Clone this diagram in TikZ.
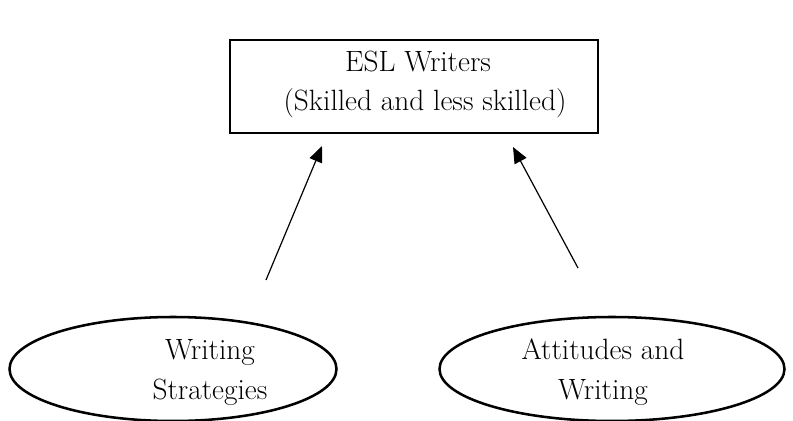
\documentclass[tikz,border=0pt]{standalone}
\usetikzlibrary{shapes.geometric,arrows.meta}
\begin{document}
\begin{tikzpicture}[x=0.75pt,y=-0.75pt,
  thick line/.style={line width=1.9pt},
  boxnode/.style={draw,thick line,minimum width=368*0.75pt,minimum height=93*0.75pt,inner sep=0pt},
  ovalnode/.style={draw,thick line,ellipse,inner sep=0pt},
  txt/.style={font=\fontsize{22}{30}\selectfont,align=center},
  conn/.style={line width=0.9pt,-{Triangle[length=12pt,width=10pt]}}]
\useasboundingbox (0,0) rectangle (793,421);
\node[boxnode] (esl) at (414,86.5) {};
\node[txt] (t1) at (418,61) {ESL Writers};
\node[txt] (t2) at (425,103) {(Skilled and less skilled)};
\node[ovalnode,minimum width=327*0.75pt,minimum height=104*0.75pt] (ws) at (173,369) {};
\node[txt] (wst) at (210,372) {Writing\\Strategies};
\node[ovalnode,minimum width=345*0.75pt,minimum height=104*0.75pt] (aw) at (612,369) {};
\node[txt] (awt) at (603,372) {Attitudes and\\Writing};
\coordinate (a1s) at (266,280);
\coordinate (a1e) at (322,146);
\coordinate (a2s) at (578,268);
\coordinate (a2e) at (513,147);
\draw[conn] (a1s) -- (a1e);
\draw[conn] (a2s) -- (a2e);
\end{tikzpicture}
\end{document}
